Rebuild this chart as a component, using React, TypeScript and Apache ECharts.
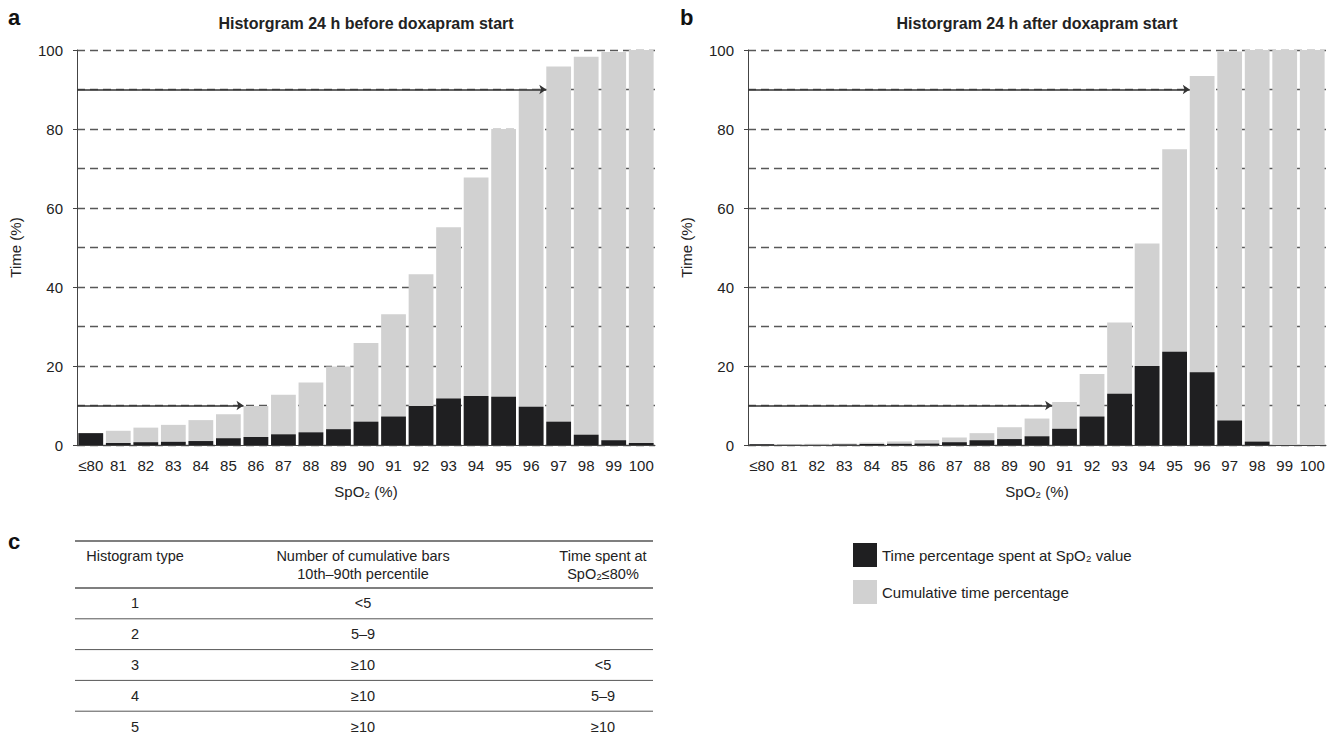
import React, { useEffect, useRef } from 'react';
import * as echarts from 'echarts';

// ---------- data ----------
const categories = ['≤80', '81', '82', '83', '84', '85', '86', '87', '88', '89', '90', '91', '92', '93', '94', '95', '96', '97', '98', '99', '100'];

const beforeTime = [3.0, 0.5, 0.7, 0.8, 1.0, 1.7, 2.0, 2.7, 3.2, 4.0, 5.9, 7.2, 9.9, 11.8, 12.4, 12.2, 9.7, 5.9, 2.6, 1.2, 0.5];
const beforeCum = [3.0, 3.6, 4.4, 5.1, 6.3, 7.8, 9.9, 12.7, 15.8, 19.9, 25.8, 33.1, 43.2, 55.1, 67.7, 80.0, 90.0, 95.8, 98.3, 99.5, 100];

const afterTime = [0.2, 0.05, 0.05, 0.15, 0.25, 0.3, 0.35, 0.7, 1.2, 1.5, 2.2, 4.1, 7.2, 13.0, 20.0, 23.6, 18.4, 6.2, 0.85, 0, 0];
const afterCum = [0.2, 0.25, 0.3, 0.4, 0.6, 0.9, 1.25, 1.9, 3.0, 4.5, 6.7, 10.9, 18.0, 31.0, 51.0, 74.9, 93.4, 99.6, 100, 100, 100];

// percentile arrows: level (%) and index of the bar they point to
const percentileLevels = [10, 90];
const beforeArrowTargets = [6, 17];
const afterArrowTargets = [11, 16];

const panelTitles = ['Historgram 24 h before doxapram start', 'Historgram 24 h after doxapram start'];
const panelLetters = ['a', 'b', 'c'];
const seriesNames = ['Time percentage spent at SpO₂ value', 'Cumulative time percentage'];

const tableHeader = [
  ['Histogram type'],
  ['Number of cumulative bars', '10th–90th percentile'],
  ['Time spent at', 'SpO₂≤80%'],
];
const tableTypes = ['1', '2', '3', '4', '5'];
const tableBars = ['<5', '5–9', '≥10', '≥10', '≥10'];
const tableTimeSpent = ['', '', '<5', '5–9', '≥10'];

// ---------- styles ----------
const FONT = '"Liberation Sans", Arial, Helvetica, sans-serif';
const BLACK = '#1f1f21';
const GRAY = '#d1d1d1';
const TEXT = '#222';
const AXIS = '#444';

const grids = [
  { left: 77, top: 50, width: 578, height: 395 },
  { left: 748, top: 50, width: 578, height: 395 },
];

function catAxis(gridIndex: number) {
  return {
    type: 'category',
    gridIndex,
    data: categories,
    axisLine: { lineStyle: { color: AXIS, width: 1 } },
    axisTick: { alignWithLabel: true, length: 6, lineStyle: { color: AXIS } },
    axisLabel: { interval: 0, fontSize: 15, color: TEXT, margin: 13, fontFamily: FONT },
    name: 'SpO₂ (%)',
    nameLocation: 'middle',
    nameGap: 39,
    nameTextStyle: { fontSize: 15, color: TEXT, fontFamily: FONT },
  };
}

function valXAxis(gridIndex: number) {
  return { type: 'value', gridIndex, min: 0, max: categories.length, show: false };
}

const dashStyle = { type: [8, 5], color: '#585858', width: 1.3 };

function yAxis(gridIndex: number) {
  return {
    type: 'value',
    gridIndex,
    min: 0,
    max: 100,
    interval: 20,
    name: 'Time (%)',
    nameLocation: 'middle',
    nameGap: 54,
    nameTextStyle: { fontSize: 15, color: TEXT, fontFamily: FONT },
    axisLine: { show: true, lineStyle: { color: AXIS, width: 1 } },
    axisTick: { show: true, length: 4, lineStyle: { color: AXIS } },
    axisLabel: { fontSize: 15, color: TEXT, margin: 14, fontFamily: FONT },
    splitLine: { show: true, lineStyle: dashStyle },
    minorTick: { show: false, splitNumber: 2 },
    minorSplitLine: { show: true, lineStyle: dashStyle },
  };
}

function panelSeries(g: number, time: number[], cum: number[], targets: number[]) {
  return [
    {
      type: 'bar',
      name: seriesNames[1],
      xAxisIndex: 2 * g,
      yAxisIndex: g,
      data: cum,
      itemStyle: { color: GRAY },
      barCategoryGap: '10%',
      barGap: '-100%',
      silent: true,
    },
    {
      type: 'bar',
      name: seriesNames[0],
      xAxisIndex: 2 * g,
      yAxisIndex: g,
      data: time,
      itemStyle: { color: BLACK },
      barCategoryGap: '10%',
      barGap: '-100%',
      silent: true,
    },
    {
      type: 'lines',
      coordinateSystem: 'cartesian2d',
      xAxisIndex: 2 * g + 1,
      yAxisIndex: g,
      data: percentileLevels.map((lvl, i) => ({
        coords: [
          [0, lvl],
          [targets[i] + 0.05, lvl],
        ],
      })),
      symbol: ['none', 'arrow'],
      symbolSize: 7,
      lineStyle: { color: '#333', width: 1.5, opacity: 1 },
      silent: true,
      z: 5,
    },
  ];
}

function buildGraphic() {
  const els: any[] = [];
  const letterPos = [
    [8, 17],
    [680, 17],
    [8, 541],
  ];
  panelLetters.forEach((l, i) => {
    els.push({
      type: 'text',
      x: letterPos[i][0],
      y: letterPos[i][1],
      style: { text: l, fontSize: 22, fontWeight: 'bold', fontFamily: FONT, fill: '#111', textVerticalAlign: 'middle', textAlign: 'left' },
    });
  });
  panelTitles.forEach((t, i) => {
    els.push({
      type: 'text',
      x: grids[i].left + grids[i].width / 2,
      y: 23,
      style: { text: t, fontSize: 16, fontWeight: 'bold', fontFamily: FONT, fill: TEXT, textAlign: 'center', textVerticalAlign: 'middle' },
    });
  });

  // table
  const tLeft = 75;
  const tRight = 653;
  const colX = [135, 363, 603];
  const topLine = 541;
  const headerBottom = 588;
  const rowH = 30.8;
  const hline = (y: number, w: number) => ({
    type: 'line',
    shape: { x1: tLeft, y1: y, x2: tRight, y2: y },
    style: { stroke: '#555', lineWidth: w },
  });
  els.push(hline(topLine, 1.3));
  els.push(hline(headerBottom, 1.3));
  for (let r = 1; r < tableTypes.length; r++) els.push(hline(headerBottom + r * rowH, 1));

  const txt = (x: number, y: number, s: string) => ({
    type: 'text',
    x,
    y,
    style: { text: s, fontSize: 14.5, fontFamily: FONT, fill: TEXT, textAlign: 'center', textVerticalAlign: 'middle' },
  });
  tableHeader.forEach((lines, c) => {
    if (lines.length === 1) els.push(txt(colX[c], 556, lines[0]));
    else {
      els.push(txt(colX[c], 556, lines[0]));
      els.push(txt(colX[c], 574, lines[1]));
    }
  });
  tableTypes.forEach((t, r) => {
    const y = headerBottom + r * rowH + rowH / 2;
    els.push(txt(colX[0], y, t));
    els.push(txt(colX[1], y, tableBars[r]));
    if (tableTimeSpent[r]) els.push(txt(colX[2], y, tableTimeSpent[r]));
  });
  return els;
}

export default function App() {
  const ref = useRef<HTMLDivElement>(null);
  useEffect(() => {
    if (!ref.current) return;
    const chart = echarts.init(ref.current, undefined, { renderer: 'svg' });
    chart.setOption({
      animation: false,
      backgroundColor: '#fff',
      textStyle: { fontFamily: FONT },
      grid: grids,
      xAxis: [catAxis(0), valXAxis(0), catAxis(1), valXAxis(1)],
      yAxis: [yAxis(0), yAxis(1)],
      legend: {
        data: seriesNames,
        orient: 'vertical',
        left: 848,
        top: 538,
        itemWidth: 24,
        itemHeight: 24,
        itemGap: 13,
        icon: 'rect',
        selectedMode: false,
        textStyle: { fontSize: 15, color: TEXT, fontFamily: FONT },
      },
      series: [
        ...panelSeries(0, beforeTime, beforeCum, beforeArrowTargets),
        ...panelSeries(1, afterTime, afterCum, afterArrowTargets),
      ],
      graphic: buildGraphic(),
    });
    return () => chart.dispose();
  }, []);
  return (
    <div
      ref={ref}
      style={{ position: 'absolute', left: 0, top: 0, width: 1333, height: 739, background: '#fff' }}
    />
  );
}
